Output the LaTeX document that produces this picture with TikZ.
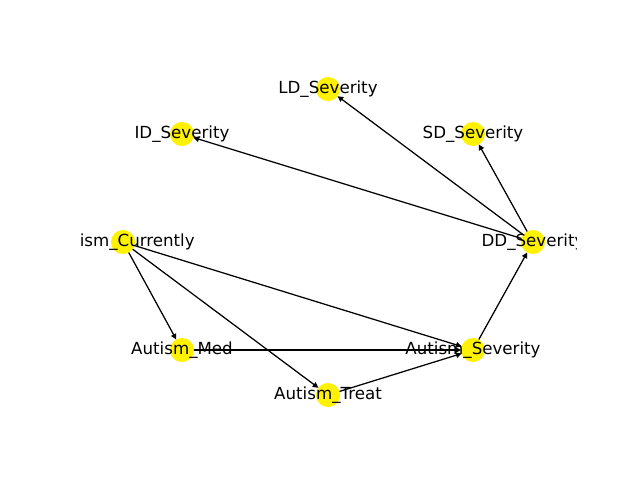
\documentclass[tikz,border=0pt]{standalone}
\usepackage{fontspec}
\setmainfont{DejaVu Sans}
\usetikzlibrary{arrows.meta}
\tikzset{
    vertex/.style={circle, fill=yellow, draw=none, minimum size=17.3pt, inner sep=0pt, outer sep=0pt},
    edge/.style={draw=black, line width=.9pt, -{Triangle[length=4pt,width=4pt]}},
    vlabel/.style={font=\fontsize{12}{14}\selectfont, inner sep=0pt}
}
\begin{document}
\begin{tikzpicture}[x=.72pt, y=-.72pt]
    \useasboundingbox (0, 0) rectangle (640, 480);
    \begin{scope}
        \clip (80, 57.6) rectangle (576, 427.2);
        % nodes
        \node[vertex] (ld) at (328, 89) {};
        \node[vertex] (id) at (182, 134) {};
        \node[vertex] (sd) at (473, 134) {};
        \node[vertex] (cur) at (123, 242) {};
        \node[vertex] (dd) at (533, 242) {};
        \node[vertex] (med) at (182, 350) {};
        \node[vertex] (sev) at (473, 350) {};
        \node[vertex] (treat) at (328, 395) {};
        % edges
        \draw[edge] (cur) -- (med);
        \draw[edge] (cur) -- (treat);
        \draw[edge] (cur) -- (sev);
        \draw[edge] (med) -- (sev);
        \draw[edge] (treat) -- (sev);
        \draw[edge] (sev) -- (dd);
        \draw[edge] (dd) -- (id);
        \draw[edge] (dd) -- (ld);
        \draw[edge] (dd) -- (sd);
        % labels
        \node[vlabel] (ld-text) at (ld) {LD\_Severity};
        \node[vlabel] (id-text) at (id) {ID\_Severity};
        \node[vlabel] (sd-text) at (sd) {SD\_Severity};
        \node[vlabel] (cur-text) at (cur) {Autism\_Currently};
        \node[vlabel] (dd-text) at (dd) {DD\_Severity};
        \node[vlabel] (med-text) at (med) {Autism\_Med};
        \node[vlabel] (sev-text) at (sev) {Autism\_Severity};
        \node[vlabel] (treat-text) at (treat) {Autism\_Treat};
    \end{scope}
\end{tikzpicture}
\end{document}
